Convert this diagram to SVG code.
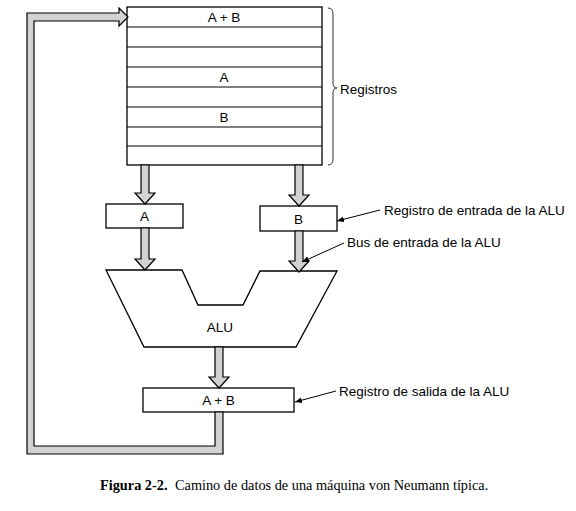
<svg xmlns="http://www.w3.org/2000/svg" width="576" height="511" viewBox="0 0 576 511">
<defs>
<marker id="ah" viewBox="0 0 10 10" refX="10" refY="5" markerWidth="7" markerHeight="7" markerUnits="userSpaceOnUse" orient="auto">
<path d="M0,1 L10,5 L0,9 Z" fill="#000"/>
</marker>
</defs>
<style>
.box{fill:#fff;stroke:#000;stroke-width:1.3}
.bus{fill:#d2d2d2;stroke:#000;stroke-width:1.2;stroke-linejoin:miter}
.lbl{font-family:"Liberation Sans",Arial,sans-serif;font-size:13.5px;fill:#000}
.ctr{text-anchor:middle}
.lead{stroke:#000;stroke-width:1;fill:none}
.cap{font-family:"Liberation Serif","Times New Roman",serif;font-size:14.3px;fill:#000}
</style>
<rect width="576" height="511" fill="#fff"/>
<g id="registros">
<rect class="box" x="127" y="7" width="195" height="158"/>
<g stroke="#000" stroke-width="1.2">
<line x1="127" y1="27" x2="322" y2="27"/>
<line x1="127" y1="47" x2="322" y2="47"/>
<line x1="127" y1="67" x2="322" y2="67"/>
<line x1="127" y1="87" x2="322" y2="87"/>
<line x1="127" y1="107" x2="322" y2="107"/>
<line x1="127" y1="127" x2="322" y2="127"/>
<line x1="127" y1="146" x2="322" y2="146"/>
</g>
<text class="lbl ctr" x="224" y="22">A + B</text>
<text class="lbl ctr" x="224" y="82">A</text>
<text class="lbl ctr" x="224" y="122">B</text>
<path d="M328,8 Q333,8 333,14 L333,83 Q333,88 337,88 Q333,88 333,93 L333,159 Q333,165 328,165" fill="none" stroke="#333" stroke-width="1"/>
<text class="lbl" x="340" y="94">Registros</text>
</g>
<g id="regA">
<rect class="box" x="106" y="204" width="77" height="24"/>
<text class="lbl ctr" x="144.5" y="221">A</text>
</g>
<g id="regB">
<rect class="box" x="260" y="206" width="77" height="25"/>
<text class="lbl ctr" x="298.5" y="223.5">B</text>
</g>
<g id="alu">
<polygon class="box" points="106,270 182,270 198,305 243,305 260,271 337,271 296,347 144,347"/>
<text class="lbl ctr" x="220" y="332">ALU</text>
</g>
<g id="regSalida">
<rect class="box" x="143" y="388" width="151" height="24"/>
<text class="lbl ctr" x="218.5" y="405">A + B</text>
</g>
<g id="connectors">
<polygon class="bus" points="141,165 141,193 135,193 145,204 155,193 149,193 149,165"/>
<polygon class="bus" points="295,165 295,195 289,195 299,206 309,195 303,195 303,165"/>
<polygon class="bus" points="141,228 141,259 135,259 145,270 155,259 149,259 149,228"/>
<polygon class="bus" points="295,231 295,261 289,261 299,272 309,261 303,261 303,231"/>
<polygon class="bus" points="215,347 215,377 209,377 219,388 229,377 223,377 223,347"/>
<polygon class="bus" points="223,412 223,454 27,454 27,13 119,13 119,8 128,17 119,26 119,21 34,21 34,446 215,446 215,412"/>
<line class="lead" x1="380" y1="210" x2="337" y2="221" marker-end="url(#ah)"/>
<line class="lead" x1="344" y1="243" x2="302" y2="262" marker-end="url(#ah)"/>
<line class="lead" x1="336" y1="391" x2="295" y2="402" marker-end="url(#ah)"/>
</g>
<g id="labels">
<text class="lbl" x="384" y="215">Registro de entrada de la ALU</text>
<text class="lbl" x="347" y="247">Bus de entrada de la ALU</text>
<text class="lbl" x="339" y="396">Registro de salida de la ALU</text>
</g>
<text class="cap" y="490"><tspan x="100" font-weight="bold">Figura 2-2.</tspan><tspan x="175">Camino de datos de una máquina von Neumann típica.</tspan></text>
</svg>
